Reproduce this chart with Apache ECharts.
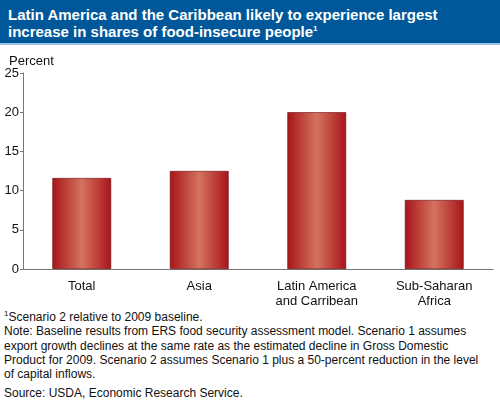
<!DOCTYPE html>
<html><head><meta charset="utf-8">
<script src="https://cdn.jsdelivr.net/npm/echarts@6/dist/echarts.min.js"></script>
<style>
body{margin:0;font-family:"Liberation Sans",Arial,sans-serif;}
#head{background:#00589a;color:#fff;font-weight:bold;font-size:15px;line-height:17px;padding:6px 8px 0 8px;height:37px;border-bottom:2px solid #9cc1dc;box-sizing:content-box}
#ciyun{width:500px;height:265px}
#notes{font-size:12px;line-height:14.3px;color:#111;padding:0 4px;width:480px}
sup{font-size:8px;line-height:0}
</style></head><body>
<div id="head">Latin America and the Caribbean likely to experience largest increase in shares of food-insecure people<sup>1</sup></div>
<div id="ciyun"></div>
<div id="notes"><sup>1</sup>Scenario 2 relative to 2009 baseline.<br>Note: Baseline results from ERS food security assessment model. Scenario 1 assumes export growth declines at the same rate as the estimated decline in Gross Domestic Product for 2009. Scenario 2 assumes Scenario 1 plus a 50-percent reduction in the level of capital inflows.<br><div style="margin-top:5px">Source: USDA, Economic Research Service.</div></div>
<script>
var categories = ['Total', 'Asia', 'Latin America\nand Carribean', 'Sub-Saharan\nAfrica'];
var values = [11.6, 12.5, 20, 8.8];

var myChart = echarts.init(document.getElementById('ciyun'));
var grad = new echarts.graphic.LinearGradient(0, 0, 1, 0, [
    {offset: 0, color: '#a8141a'},
    {offset: 0.5, color: '#d4735e'},
    {offset: 1, color: '#a8141a'}
]);
var option = {
    animation: false,
    textStyle: {fontFamily: 'Liberation Sans'},
    grid: {left: 23, right: 7, top: 28, bottom: 41},
    title: {text: 'Percent', left: 4, top: 5, textStyle: {fontSize: 13, fontWeight: 'normal', color: '#111'}},
    xAxis: {
        type: 'category', data: categories,
        axisLine: {lineStyle: {color: '#777'}},
        axisTick: {show: false},
        axisLabel: {color: '#111', fontSize: 13, lineHeight: 15, margin: 10}
    },
    yAxis: {
        type: 'value', min: 0, max: 25, interval: 5,
        splitLine: {show: false},
        axisLine: {show: true, lineStyle: {color: '#777'}},
        axisTick: {show: true, length: 3, lineStyle: {color: '#777'}},
        axisLabel: {color: '#111', fontSize: 13, margin: 4}
    },
    series: [{
        type: 'bar', data: values, barWidth: '50%',
        itemStyle: {color: grad, borderColor: '#6a0a0e', borderWidth: 0.6}
    }]
};
myChart.setOption(option);
</script>
</body></html>
